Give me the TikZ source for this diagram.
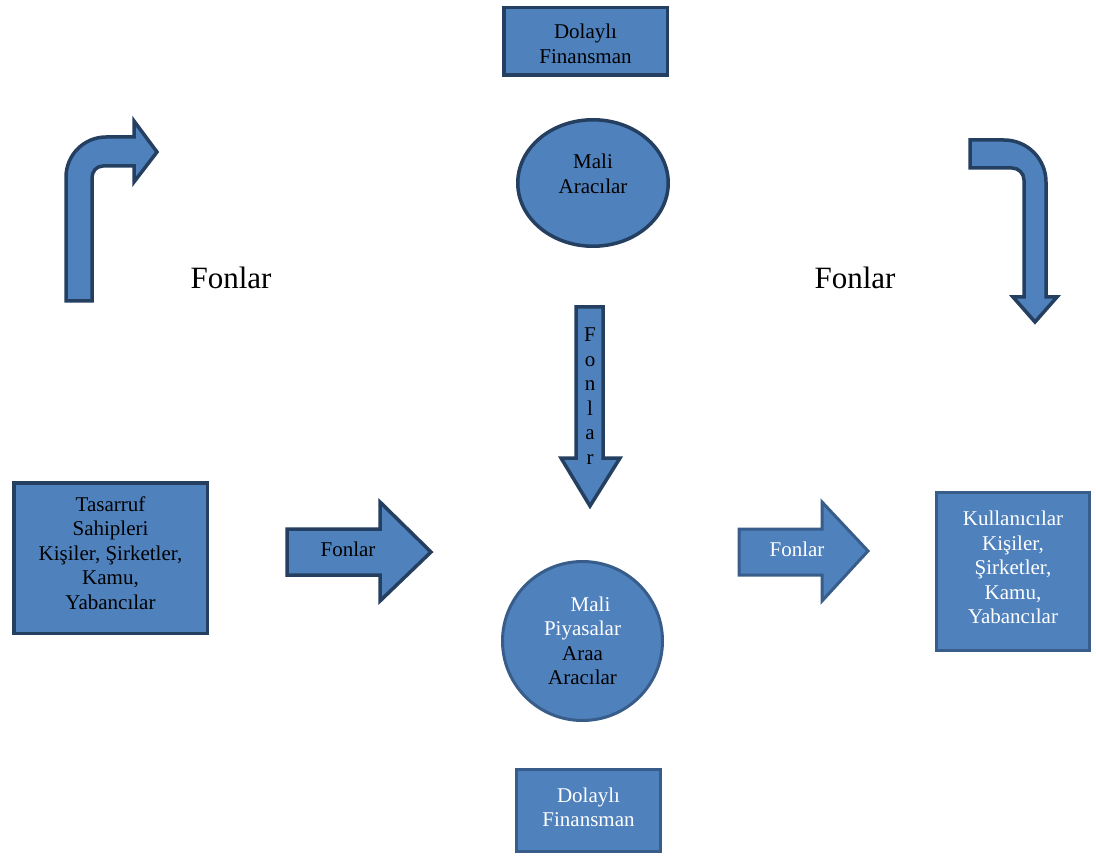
\documentclass[tikz,border=0pt]{standalone}
\usepackage{fontspec}
\setmainfont{Liberation Serif}
\usetikzlibrary{shapes.geometric}
\definecolor{fillblue}{HTML}{4F81BD}
\definecolor{darkedge}{HTML}{243F60}
\definecolor{midedge}{HTML}{385D8A}
\tikzset{
  txt/.style={font=\fontsize{21}{24.5}\selectfont, align=center, inner sep=0pt},
  bigtxt/.style={font=\fontsize{31}{36}\selectfont, inner sep=0pt},
  darkshape/.style={fill=fillblue, draw=darkedge, line width=3.5pt, line join=miter},
  midshape/.style={fill=fillblue, draw=midedge, line width=3pt, line join=miter},
}
\begin{document}
\begin{tikzpicture}[x=1pt,y=-1pt]
\useasboundingbox (0,0) rectangle (1096,861);

% top box
\node[darkshape, minimum width=163.5pt, minimum height=67.5pt] (topbox) at (585.5,41.5) {};
\node[txt] (topboxtxt) at (585.5,44) {Dolaylı\\Finansman};
% Mali Aracilar ellipse
\node[darkshape, ellipse, minimum width=150.5pt, minimum height=126.5pt] (araci) at (593,183) {};
\node[txt] (aracitxt) at (593,174) {Mali\\Aracılar};
% vertical arrow
\draw[darkshape] (576,307) -- (603,307) -- (603,458) -- (620,458) -- (590,506) -- (561,458) -- (576,458) -- cycle;
\node[txt] (vfon) at (590,396) {F\\o\\n\\l\\a\\r};
% Mali Piyasalar circle
\node[midshape, ellipse, minimum width=160pt, minimum height=159pt] (piyasa) at (582.5,641) {};
\node[txt] (piyasatxt) at (582.5,641)
  {\hspace*{16pt}\textcolor{white}{Mali}\\\textcolor{white}{Piyasalar}\\Araa\\Aracılar};
% bottom box
\node[midshape, minimum width=144pt, minimum height=82pt] (botbox) at (588.5,810.5) {};
\node[txt, text=white] (botboxtxt) at (588.5,807.5) {Dolaylı\\Finansman};
% left box
\node[darkshape, minimum width=193.5pt, minimum height=150.5pt] (tasarruf) at (110.5,558) {};
\node[txt] (tasarruftxt) at (110.5,553)
  {Tasarruf\\Sahipleri\\Kişiler, Şirketler,\\Kamu,\\Yabancılar};
% right box
\node[midshape, minimum width=153pt, minimum height=158pt] (kullan) at (1013,571.5) {};
\node[txt, text=white] (kullantxt) at (1013,567.5)
  {Kullanıcılar\\Kişiler,\\Şirketler,\\Kamu,\\Yabancılar};
% left horizontal arrow
\draw[darkshape] (287,529) -- (380,529) -- (380,502) -- (431,552) -- (380,601) -- (380,575) -- (287,575) -- cycle;
\node[txt] (lfon) at (348,549) {Fonlar};
% right horizontal arrow
\draw[midshape] (739,529) -- (822,529) -- (822,502) -- (868,551) -- (822,601) -- (822,575) -- (739,575) -- cycle;
\node[txt, text=white] (rfon) at (797,549) {Fonlar};
% left bent arrow
\draw[darkshape] (66,301) -- (66,177) .. controls (66,155) and (84,137) .. (106,137) -- (134,137) -- (134,121)
  -- (157,152) -- (134,182) -- (134,166) -- (103,166) .. controls (96.4,166) and (92,171.4) .. (92,178) -- (92,301) -- cycle;
% right bent arrow
\draw[darkshape] (970,140) -- (1004,140) .. controls (1027.2,140) and (1046,158.8) .. (1046,182) -- (1046,297)
  -- (1057,297) -- (1035,322) -- (1013,297) -- (1024,297) -- (1024,180) .. controls (1024,173.4) and (1018.6,168) .. (1012,168)
  -- (970,168) -- cycle;
% big labels
\node[bigtxt] (bigl) at (231,278) {Fonlar};
\node[bigtxt] (bigr) at (855,278) {Fonlar};
\end{tikzpicture}
\end{document}
